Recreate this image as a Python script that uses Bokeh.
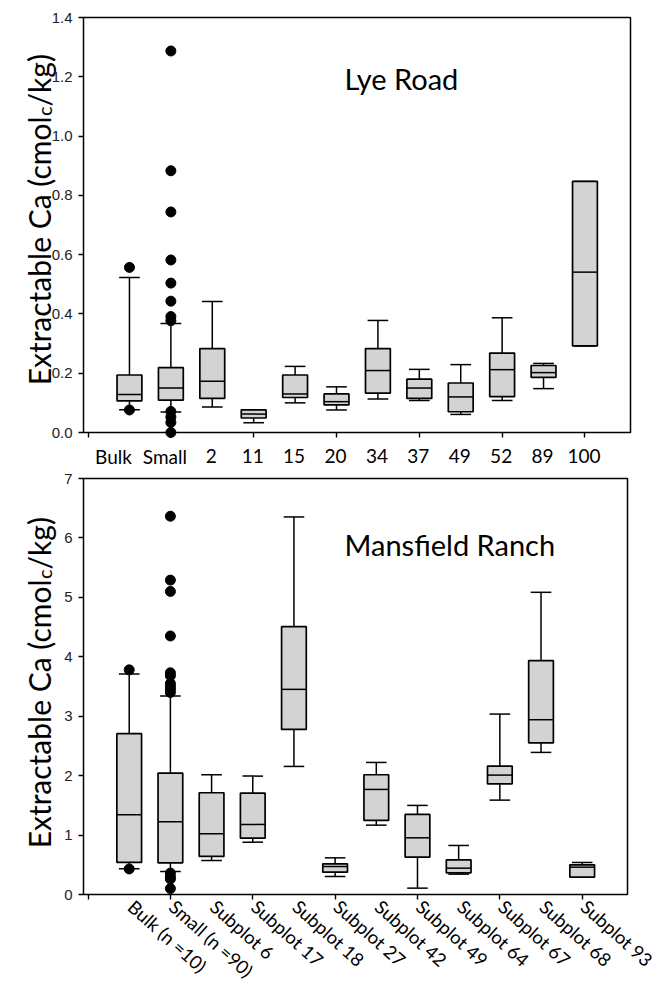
import numpy as np
from bokeh.plotting import figure
from bokeh.layouts import column
from bokeh.models import Range1d, FixedTicker, NumeralTickFormatter
from bokeh.embed import file_html
from bokeh.resources import INLINE
from bokeh.core.properties import value

# ---------------- Data: Lye Road ----------------
lye_labels = ["Bulk", "Small", "2", "11", "15", "20", "34", "37", "49", "52", "89", "100"]
lye_q1 = [0.107, 0.109, 0.115, 0.049, 0.118, 0.093, 0.133, 0.115, 0.070, 0.121, 0.186, 0.292]
lye_med = [0.128, 0.150, 0.173, 0.062, 0.130, 0.104, 0.209, 0.150, 0.120, 0.212, 0.202, 0.541]
lye_q3 = [0.194, 0.219, 0.283, 0.076, 0.194, 0.130, 0.283, 0.180, 0.167, 0.268, 0.226, 0.847]
lye_lo = [0.077, 0.069, 0.086, 0.033, 0.100, 0.076, 0.113, 0.108, 0.061, 0.108, 0.148, 0.292]
lye_hi = [0.523, 0.368, 0.442, 0.076, 0.223, 0.154, 0.378, 0.213, 0.229, 0.387, 0.233, 0.847]
lye_out_group = ["Bulk", "Bulk"] + ["Small"] * 12
lye_out_vals = [0.557, 0.076,
                1.287, 0.883, 0.744, 0.582, 0.504, 0.443, 0.391, 0.377, 0.071, 0.052, 0.034, 0.0]
lye_yticks = [0.0, 0.2, 0.4, 0.6, 0.8, 1.0, 1.2, 1.4]

# ---------------- Data: Mansfield Ranch ----------------
mr_labels = ["Bulk (n =10)", "Small (n =90)", "Subplot 6", "Subplot 17", "Subplot 18", "Subplot 27",
             "Subplot 42", "Subplot 49", "Subplot 64", "Subplot 67", "Subplot 68", "Subplot 93"]
mr_q1 = [0.539, 0.533, 0.640, 0.948, 2.778, 0.376, 1.246, 0.629, 0.365, 1.863, 2.553, 0.292]
mr_med = [1.342, 1.224, 1.022, 1.179, 3.452, 0.471, 1.768, 0.954, 0.443, 2.009, 2.941, 0.460]
mr_q3 = [2.706, 2.043, 1.712, 1.706, 4.507, 0.517, 2.015, 1.347, 0.584, 2.161, 3.934, 0.500]
mr_lo = [0.432, 0.387, 0.572, 0.881, 2.155, 0.303, 1.167, 0.107, 0.342, 1.588, 2.391, 0.292]
mr_hi = [3.710, 3.340, 2.015, 1.992, 6.353, 0.617, 2.222, 1.499, 0.825, 3.036, 5.085, 0.539]
mr_out_group = ["Bulk (n =10)", "Bulk (n =10)"] + ["Small (n =90)"] * 14
mr_out_vals = [3.78, 0.43,
               6.365, 5.29, 5.10, 4.35, 3.73, 3.68, 3.55, 3.50, 3.45, 3.40, 0.36, 0.30, 0.26, 0.10]
mr_yticks = [0, 1, 2, 3, 4, 5, 6, 7]

y_title_parts = ["Extractable Ca (cmol", "c", "/kg)"]

BOX_FILL = "#d3d3d3"
FONT = "Lato"
FIG_W = 664
X_LO, X_PAD = -0.11, 1.1
# horizontal nudges (px) of the first two category labels in the upper panel
TOP_LABEL_NUDGE = {0: -16, 1: -6}


def make_fig(labels, q1, med, q3, lo, hi, out_group, out_vals, yticks, yfmt, title,
             canvas_top, height, box, ytitle_end, title_pos, rotated):
    """box = (left, right, top, bottom) of the plot box in page pixels."""
    n = len(labels)
    xs = np.arange(1, n + 1)
    bl, br, bt, bb = box
    x_hi = n + X_PAD
    sx = (br - bl) / (x_hi - X_LO)
    sy = (bb - bt) / (yticks[-1] - yticks[0])
    page_l, page_r = 0, FIG_W
    canvas_bottom = canvas_top + height

    def xd(px):
        return X_LO + (px - bl) / sx

    def yd(py):
        return yticks[0] + (bb - py) / sy

    p = figure(width=FIG_W, height=height, output_backend="svg", toolbar_location=None,
               title_location=None,
               x_range=Range1d(xd(page_l), xd(page_r)),
               y_range=Range1d(yd(canvas_bottom), yd(canvas_top)),
               min_border=0)
    p.xgrid.visible = False
    p.ygrid.visible = False
    p.outline_line_color = None

    # plot box
    p.quad(left=[X_LO], right=[x_hi], bottom=[yticks[0]], top=[yticks[-1]],
           fill_color=None, line_color="black", line_width=1.5)

    q1 = np.array(q1); q3 = np.array(q3); med = np.array(med)
    lo = np.array(lo); hi = np.array(hi)
    bw, cw = 0.6, 0.5
    lw = 1.5
    p.segment(x0=xs, y0=q3, x1=xs, y1=hi, line_color="black", line_width=lw)
    p.segment(x0=xs, y0=lo, x1=xs, y1=q1, line_color="black", line_width=lw)
    p.segment(x0=xs - cw / 2, y0=hi, x1=xs + cw / 2, y1=hi, line_color="black", line_width=lw)
    p.segment(x0=xs - cw / 2, y0=lo, x1=xs + cw / 2, y1=lo, line_color="black", line_width=lw)
    p.vbar(x=xs, width=bw, bottom=q1, top=q3, fill_color=BOX_FILL, line_color="black", line_width=1.7)
    p.segment(x0=xs - bw / 2, y0=med, x1=xs + bw / 2, y1=med, line_color="black", line_width=lw)
    ox = [labels.index(g) + 1 for g in out_group]
    p.scatter(x=ox, y=out_vals, size=10, fill_color="black", line_color="black")

    # x axis pinned at y = 0 : only the outward ticks between categories
    xa = p.xaxis[0]
    xa.fixed_location = yticks[0]
    xa.ticker = FixedTicker(ticks=[], minor_ticks=list(range(0, n + 1, 2)))
    xa.major_tick_out = 0
    xa.major_tick_in = 0
    xa.minor_tick_out = 5
    xa.minor_tick_in = 0
    xa.minor_tick_line_color = "black"
    xa.minor_tick_line_width = 1.4
    xa.axis_line_color = None
    xa.major_label_text_font_size = "0px"

    # y axis pinned at the box's left edge
    ya = p.yaxis[0]
    ya.fixed_location = X_LO
    ya.ticker = FixedTicker(ticks=yticks)
    ya.formatter = NumeralTickFormatter(format=yfmt)
    ya.major_tick_out = 5
    ya.major_tick_in = 0
    ya.major_tick_line_color = "black"
    ya.major_tick_line_width = 1.4
    ya.minor_tick_line_color = None
    ya.axis_line_color = None
    ya.major_label_text_font = "Liberation Sans"
    ya.major_label_text_font_size = "15px"
    ya.major_label_text_color = "#222222"
    ya.major_label_standoff = 6

    # category labels
    if rotated:
        p.text(x=xs + 9 / sx, y=[yd(bb + 1)] * n, text=labels, angle=-0.73,
               text_font=value(FONT), text_font_size="18.5px", text_color="black",
               text_align="left", text_baseline="top")
    else:
        lx = [x + TOP_LABEL_NUDGE.get(i, -1) / sx for i, x in enumerate(xs)]
        p.text(x=lx, y=[yd(bb + 23.5)] * n, text=labels,
               text_font=value(FONT), text_font_size="19px", text_color="black",
               text_align="center", text_baseline="alphabetic")

    # y title with subscript (rotated, reads bottom to top)
    base_px = 38.5
    p.text(x=[xd(base_px)], y=[yd(ytitle_end)], text=[y_title_parts[0]], angle=np.pi / 2,
           text_font=value(FONT), text_font_size="30px", text_color="black",
           text_align="right", text_baseline="alphabetic")
    p.text(x=[xd(base_px + 5)], y=[yd(ytitle_end - 0.5)], text=[y_title_parts[1]],
           angle=np.pi / 2, text_font=value(FONT), text_font_size="20px", text_color="black",
           text_align="left", text_baseline="alphabetic")
    p.text(x=[xd(base_px)], y=[yd(ytitle_end - 10)], text=[y_title_parts[2]],
           angle=np.pi / 2, text_font=value(FONT), text_font_size="30px", text_color="black",
           text_align="left", text_baseline="alphabetic")

    # panel title
    p.text(x=[xd(title_pos[0])], y=[yd(title_pos[1])], text=[title], text_font=value(FONT),
           text_font_size="29px", text_color="black", text_align="left",
           text_baseline="alphabetic")
    return p


H1 = 470
H2 = 984 - H1

p1 = make_fig(lye_labels, lye_q1, lye_med, lye_q3, lye_lo, lye_hi, lye_out_group, lye_out_vals,
              lye_yticks, "0.0", "Lye Road", canvas_top=0, height=H1, box=(83, 630, 17, 432),
              ytitle_end=116, title_pos=(344, 78), rotated=False)
p2 = make_fig(mr_labels, mr_q1, mr_med, mr_q3, mr_lo, mr_hi, mr_out_group, mr_out_vals,
              mr_yticks, "0", "Mansfield Ranch", canvas_top=H1, height=H2,
              box=(83, 627, 478, 894), ytitle_end=116 + 463, title_pos=(344, 544), rotated=True)

layout = column(p1, p2, spacing=0)
open("out.html", "w").write(file_html(layout, INLINE))
